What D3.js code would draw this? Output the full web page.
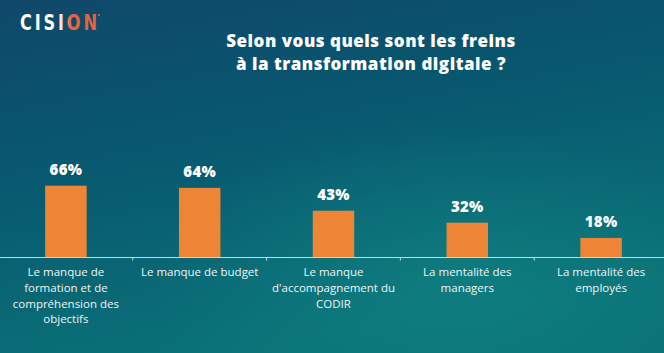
<!DOCTYPE html>
<html>
<head>
<meta charset="utf-8">
<script src="https://cdn.jsdelivr.net/npm/d3@7"></script>
<style>
  body { margin: 0; background: #0c4d6c; }
  svg { display: block; }
</style>
</head>
<body>
<script>
var w = 664, h = 353;

// donnees
var categories = ["formation", "budget", "codir", "managers", "employes"];
var labels = [
  ["Le manque de", "formation et de", "compréhension des", "objectifs"],
  ["Le manque de budget"],
  ["Le manque", "d'accompagnement du", "CODIR"],
  ["La mentalité des", "managers"],
  ["La mentalité des", "employés"]
];
var values = [66, 64, 43, 32, 18];
var titleLines = ["Selon vous quels sont les freins", "à la transformation digitale ?"];

var svg = d3.select("body").append("svg")
  .attr("width", w)
  .attr("height", h);

var defs = svg.append("defs");

var bg = defs.append("linearGradient")
  .attr("id", "bg")
  .attr("x1", "0").attr("y1", "0")
  .attr("x2", "0.35").attr("y2", "1");
bg.append("stop").attr("offset", "0").attr("stop-color", "#0f486a");
bg.append("stop").attr("offset", "0.45").attr("stop-color", "#08586f");
bg.append("stop").attr("offset", "1").attr("stop-color", "#0a7278");

var glow = defs.append("radialGradient")
  .attr("id", "glow")
  .attr("cx", "0.68").attr("cy", "0.8").attr("r", "0.45");
glow.append("stop").attr("offset", "0").attr("stop-color", "#138a86").attr("stop-opacity", 0.5);
glow.append("stop").attr("offset", "1").attr("stop-color", "#138a86").attr("stop-opacity", 0);

var logoGrad = defs.append("linearGradient")
  .attr("id", "logo")
  .attr("x1", "0").attr("x2", "1");
logoGrad.append("stop").attr("offset", "0.5").attr("stop-color", "#ffffff");
logoGrad.append("stop").attr("offset", "0.66").attr("stop-color", "#e8643e");
logoGrad.append("stop").attr("offset", "1").attr("stop-color", "#e8603c");

svg.append("rect").attr("width", w).attr("height", h).style("fill", "url(#bg)");
svg.append("rect").attr("width", w).attr("height", h).style("fill", "url(#glow)");

// logo
svg.append("g")
  .attr("transform", "translate(20,30) scale(1,1.2)")
  .append("text")
  .attr("textLength", 77)
  .attr("lengthAdjust", "spacing")
  .style("font-family", "'DejaVu Sans Condensed', sans-serif")
  .style("font-weight", "bold")
  .style("font-size", "18px")
  .style("fill", "url(#logo)")
  .text("CISION");
svg.append("circle").attr("cx", 99).attr("cy", 15).attr("r", 1).style("fill", "#e8603c");

// titre
svg.append("g").selectAll("text")
  .data(titleLines)
  .enter()
  .append("text")
  .attr("x", 371)
  .attr("y", function(d, i) { return 47 + i * 22.5; })
  .attr("text-anchor", "middle")
  .style("font-family", "'Open Sans', sans-serif")
  .style("font-weight", "800")
  .style("font-size", "17px")
  .style("letter-spacing", "0.5px")
  .style("fill", "#ffffff")
  .text(function(d) { return d; });

var x = d3.scaleBand()
  .domain(categories)
  .range([-1, 668])
  .padding(0);

var y = d3.scaleLinear()
  .domain([0, 100])
  .range([257.5, 148.7]);

var barW = x.bandwidth() * 0.31;

svg.append("g").selectAll("rect")
  .data(values)
  .enter()
  .append("rect")
  .attr("x", function(d, i) { return x(categories[i]) + x.bandwidth() / 2 - barW / 2; })
  .attr("y", function(d) { return y(d); })
  .attr("width", barW)
  .attr("height", function(d) { return y(0) - y(d); })
  .style("fill", "#ee8536");

svg.append("g").selectAll("text")
  .data(values)
  .enter()
  .append("text")
  .attr("x", function(d, i) { return x(categories[i]) + x.bandwidth() / 2; })
  .attr("y", function(d) { return y(d) - 10.5; })
  .attr("text-anchor", "middle")
  .style("font-family", "'Open Sans', sans-serif")
  .style("font-weight", "800")
  .style("font-size", "15px")
  .style("letter-spacing", "0.3px")
  .style("fill", "#ffffff")
  .text(function(d) { return d + "%"; });

// axe
var axis = svg.append("g")
  .attr("transform", "translate(0," + y(0) + ")")
  .call(d3.axisBottom(x).tickSize(3).tickFormat(""));
axis.select(".domain").attr("d", "M0,0H" + w);
axis.selectAll("line, path").style("stroke", "#b9dde2").style("stroke-width", 1);
axis.selectAll(".tick")
  .attr("transform", function(d) { return "translate(" + (x(d) + x.bandwidth()) + ",0)"; });

var lab = svg.append("g").selectAll("text")
  .data(labels)
  .enter()
  .append("text")
  .attr("text-anchor", "middle")
  .style("font-family", "'Open Sans', sans-serif")
  .style("font-size", "11.5px")
  .style("fill", "#eef5f6");

lab.selectAll("tspan")
  .data(function(d, i) { return d.map(function(s) { return {s: s, i: i}; }); })
  .enter()
  .append("tspan")
  .attr("x", function(d) { return x(categories[d.i]) + x.bandwidth() / 2; })
  .attr("y", function(d, j) { return 276 + j * 15.8; })
  .text(function(d) { return d.s; });
</script>
</body>
</html>
